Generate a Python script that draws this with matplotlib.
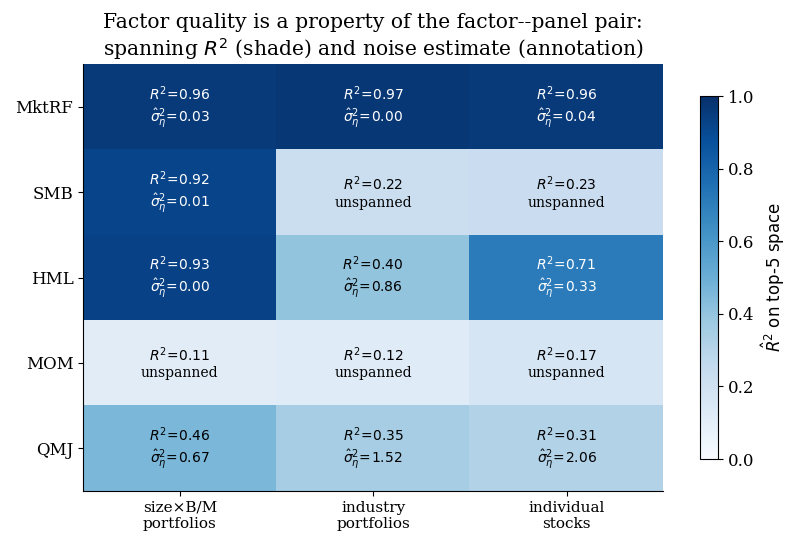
import numpy as np
import matplotlib
matplotlib.use("Agg")
import matplotlib.pyplot as plt

plt.rcParams['font.family'] = 'DejaVu Serif'

factors = ['MktRF', 'SMB', 'HML', 'MOM', 'QMJ']
panels = ['size×B/M\nportfolios', 'industry\nportfolios', 'individual\nstocks']

r2_mktrf = [0.96, 0.97, 0.96]
r2_smb = [0.92, 0.22, 0.23]
r2_hml = [0.93, 0.40, 0.71]
r2_mom = [0.11, 0.12, 0.17]
r2_qmj = [0.46, 0.35, 0.31]

# noise estimate, None = unspanned
noise_mktrf = [0.03, 0.00, 0.04]
noise_smb = [0.01, None, None]
noise_hml = [0.00, 0.86, 0.33]
noise_mom = [None, None, None]
noise_qmj = [0.67, 1.52, 2.06]

r2 = np.array([r2_mktrf, r2_smb, r2_hml, r2_mom, r2_qmj])
noise = [noise_mktrf, noise_smb, noise_hml, noise_mom, noise_qmj]

fig = plt.figure(figsize=(8, 5.48), dpi=100)
ax = fig.add_axes([0.104, 0.104, 0.725, 0.779])
cax = fig.add_axes([0.875, 0.1624, 0.0225, 0.6624])

im = ax.imshow(r2, cmap='Blues', vmin=0, vmax=1, aspect='auto')

for i in range(len(factors)):
    for j in range(len(panels)):
        val = r2[i, j]
        if noise[i][j] is None:
            txt = f"$R^2\\!=\\!{val:.2f}$\nunspanned"
        else:
            txt = f"$R^2\\!=\\!{val:.2f}$\n$\\hat{{\\sigma}}^2_\\eta\\!=\\!{noise[i][j]:.2f}$"
        color = 'white' if val > 0.5 else 'black'
        ax.text(j, i, txt, ha='center', va='center', fontsize=10, color=color)

ax.set_xticks(range(len(panels)))
ax.set_xticklabels(panels, fontsize=11)
ax.set_yticks(range(len(factors)))
ax.set_yticklabels(factors, fontsize=12)
ax.spines['top'].set_visible(False)
ax.spines['right'].set_visible(False)
ax.set_title("Factor quality is a property of the factor--panel pair:\n"
             "spanning $R^2$ (shade) and noise estimate (annotation)", fontsize=14.6)

cb = fig.colorbar(im, cax=cax)
cb.set_label(r"$\hat{R}^2$ on top-5 space", fontsize=12, family='DejaVu Sans')
cb.ax.tick_params(labelsize=12)

fig.savefig('out.png', dpi=100)
